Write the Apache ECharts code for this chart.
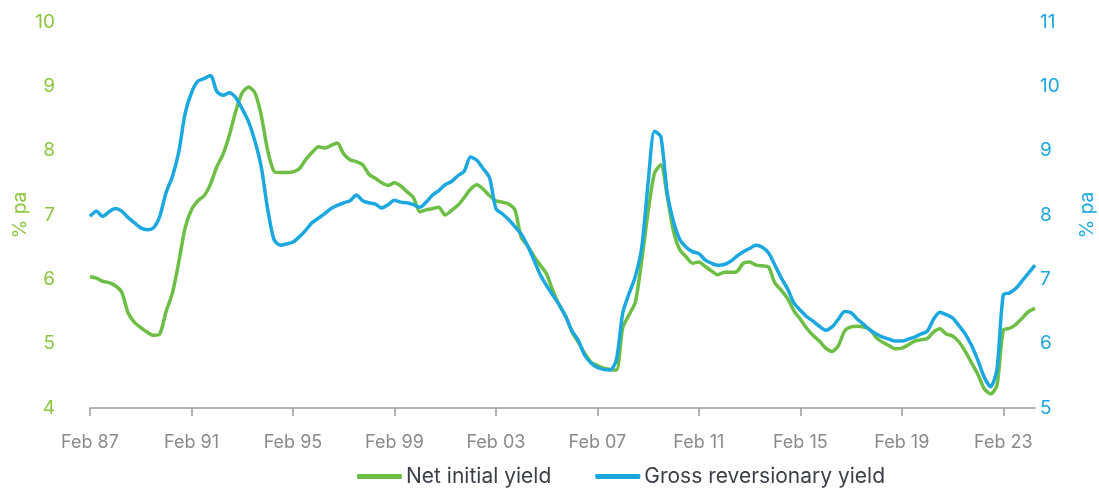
<!DOCTYPE html>
<html>
<head>
<meta charset="utf-8">
<script src="https://cdn.jsdelivr.net/npm/echarts@6/dist/echarts.min.js"></script>
<style>
html,body{margin:0;padding:0;background:#fff;}
#chart{width:1099px;height:493px;}
</style>
</head>
<body>
<div id="chart"></div>
<script>
// Quarterly observations, Feb 1987 .. May 2024
var years = [];
for (var y = 1987; y <= 2024; y++) years.push(y);
var months = ['Feb', 'May', 'Aug', 'Nov'];
var categories = [];
years.forEach(function (yr) {
  months.forEach(function (m) {
    if (yr === 2024 && (m === 'Aug' || m === 'Nov')) return;
    categories.push(m + ' ' + String(yr).slice(2));
  });
});

// Net initial yield (% pa, left axis)
var netInitialYield = [
  6.04, 6.02, 5.97, 5.95,   // 1987
  5.90, 5.80, 5.48, 5.33,   // 1988
  5.25, 5.18, 5.13, 5.15,   // 1989
  5.50, 5.79, 6.27, 6.80,   // 1990
  7.08, 7.22, 7.30, 7.48,   // 1991
  7.75, 7.95, 8.25, 8.62,   // 1992
  8.90, 8.99, 8.90, 8.55,   // 1993
  8.01, 7.68, 7.66, 7.66,   // 1994
  7.67, 7.72, 7.86, 7.97,   // 1995
  8.06, 8.04, 8.08, 8.12,   // 1996
  7.95, 7.86, 7.83, 7.78,   // 1997
  7.63, 7.57, 7.50, 7.46,   // 1998
  7.50, 7.45, 7.36, 7.27,   // 1999
  7.05, 7.08, 7.10, 7.12,   // 2000
  7.00, 7.07, 7.15, 7.27,   // 2001
  7.40, 7.47, 7.40, 7.30,   // 2002
  7.22, 7.20, 7.17, 7.08,   // 2003
  6.65, 6.52, 6.36, 6.22,   // 2004
  6.08, 5.82, 5.60, 5.43,   // 2005
  5.18, 5.02, 4.85, 4.71,   // 2006
  4.66, 4.62, 4.60, 4.59,   // 2007
  5.25, 5.45, 5.65, 6.30,   // 2008
  7.05, 7.65, 7.78, 7.30,   // 2009
  6.75, 6.46, 6.35, 6.25,   // 2010
  6.27, 6.20, 6.13, 6.07,   // 2011
  6.11, 6.11, 6.12, 6.25,   // 2012
  6.27, 6.22, 6.21, 6.19,   // 2013
  5.94, 5.83, 5.70, 5.51,   // 2014
  5.38, 5.24, 5.13, 5.04,   // 2015
  4.93, 4.88, 4.97, 5.20,   // 2016
  5.26, 5.27, 5.26, 5.22,   // 2017
  5.09, 5.02, 4.97, 4.92,   // 2018
  4.93, 4.98, 5.04, 5.06,   // 2019
  5.08, 5.18, 5.23, 5.15,   // 2020
  5.12, 5.03, 4.88, 4.70,   // 2021
  4.52, 4.30, 4.22, 4.35,   // 2022
  5.21, 5.24, 5.30, 5.40,   // 2023
  5.50, 5.55                // 2024
];

// Gross reversionary yield (% pa, right axis)
var grossReversionaryYield = [
  7.98, 8.06, 7.98, 8.05,   // 1987
  8.10, 8.06, 7.96, 7.88,   // 1988
  7.80, 7.77, 7.80, 7.98,   // 1989
  8.35, 8.60, 8.98, 9.58,   // 1990
  9.90, 10.08, 10.12, 10.17,// 1991
  9.92, 9.86, 9.90, 9.82,   // 1992
  9.65, 9.45, 9.15, 8.75,   // 1993
  8.10, 7.62, 7.53, 7.55,   // 1994
  7.58, 7.66, 7.76, 7.88,   // 1995
  7.95, 8.02, 8.10, 8.15,   // 1996
  8.19, 8.22, 8.31, 8.22,   // 1997
  8.19, 8.17, 8.11, 8.16,   // 1998
  8.23, 8.20, 8.19, 8.16,   // 1999
  8.12, 8.20, 8.31, 8.38,   // 2000
  8.47, 8.52, 8.61, 8.68,   // 2001
  8.90, 8.85, 8.72, 8.58,   // 2002
  8.10, 8.02, 7.93, 7.82,   // 2003
  7.70, 7.52, 7.30, 7.07,   // 2004
  6.90, 6.75, 6.60, 6.42,   // 2005
  6.20, 6.05, 5.82, 5.70,   // 2006
  5.63, 5.60, 5.59, 5.75,   // 2007
  6.48, 6.78, 7.05, 7.50,   // 2008
  8.50, 9.30, 9.22, 8.35,   // 2009
  7.90, 7.62, 7.50, 7.43,   // 2010
  7.40, 7.30, 7.25, 7.22,   // 2011
  7.23, 7.28, 7.36, 7.43,   // 2012
  7.48, 7.53, 7.50, 7.41,   // 2013
  7.22, 7.02, 6.85, 6.63,   // 2014
  6.52, 6.42, 6.35, 6.27,   // 2015
  6.21, 6.26, 6.38, 6.50,   // 2016
  6.48, 6.38, 6.30, 6.21,   // 2017
  6.15, 6.10, 6.07, 6.04,   // 2018
  6.04, 6.07, 6.10, 6.15,   // 2019
  6.19, 6.38, 6.49, 6.45,   // 2020
  6.40, 6.28, 6.15, 5.97,   // 2021
  5.74, 5.48, 5.33, 5.60,   // 2022
  6.76, 6.79, 6.86, 6.98,   // 2023
  7.10, 7.22                // 2024
];

var leftTicks = [4, 10, 1];   // min, max, interval
var rightTicks = [5, 11, 1];

var GREEN = '#6dbe45';
var GREEN_TXT = '#8cc63f';
var BLUE = '#1ba8e0';
var FONT = 'Inter, "Noto Sans", sans-serif';

var chart = echarts.init(document.getElementById('chart'), null, {renderer: 'canvas'});
chart.setOption({
  animation: false,
  textStyle: {fontFamily: FONT},
  grid: {left: 90, right: 64, top: 22, bottom: 85, containLabel: false, outerBoundsMode: 'none'},
  legend: {
    left: 352, bottom: 1,
    itemWidth: 45, itemHeight: 5, itemGap: 44,
    icon: 'roundRect',
    textStyle: {fontSize: 21, color: '#3a3f47', fontFamily: FONT, padding: [0, 0, 0, -1]},
    data: ['Net initial yield', 'Gross reversionary yield']
  },
  xAxis: {
    type: 'category',
    data: categories,
    boundaryGap: false,
    axisLine: {lineStyle: {color: '#9a9a9a', width: 1.5}},
    axisTick: {interval: 15, length: 8, lineStyle: {color: '#9a9a9a', width: 1.5}},
    axisLabel: {interval: 15, margin: 26, fontSize: 18, color: '#8a8a8a', fontFamily: FONT},
    splitLine: {show: false}
  },
  yAxis: [
    {
      type: 'value', position: 'left',
      min: leftTicks[0], max: leftTicks[1], interval: leftTicks[2],
      name: '% pa', nameLocation: 'middle', nameRotate: 90, nameGap: 60,
      nameMoveOverlap: false,
      nameTextStyle: {color: GREEN_TXT, fontSize: 19, fontFamily: FONT},
      axisLine: {show: false}, axisTick: {show: false}, splitLine: {show: false},
      axisLabel: {color: GREEN_TXT, fontSize: 19, margin: 35, fontFamily: FONT}
    },
    {
      type: 'value', position: 'right',
      min: rightTicks[0], max: rightTicks[1], interval: rightTicks[2],
      name: '% pa', nameLocation: 'middle', nameRotate: 90, nameGap: 43,
      nameTextStyle: {color: BLUE, fontSize: 19, fontFamily: FONT},
      axisLine: {show: false}, axisTick: {show: false}, splitLine: {show: false},
      axisLabel: {color: BLUE, fontSize: 19, margin: 5, fontFamily: FONT}
    }
  ],
  series: [
    {
      name: 'Net initial yield', type: 'line', yAxisIndex: 0,
      data: netInitialYield, showSymbol: false, smooth: 0.25,
      lineStyle: {color: GREEN, width: 3.5}, itemStyle: {color: GREEN}
    },
    {
      name: 'Gross reversionary yield', type: 'line', yAxisIndex: 1,
      data: grossReversionaryYield, showSymbol: false, smooth: 0.25,
      lineStyle: {color: BLUE, width: 3.5}, itemStyle: {color: BLUE}
    }
  ]
});
</script>
</body>
</html>
